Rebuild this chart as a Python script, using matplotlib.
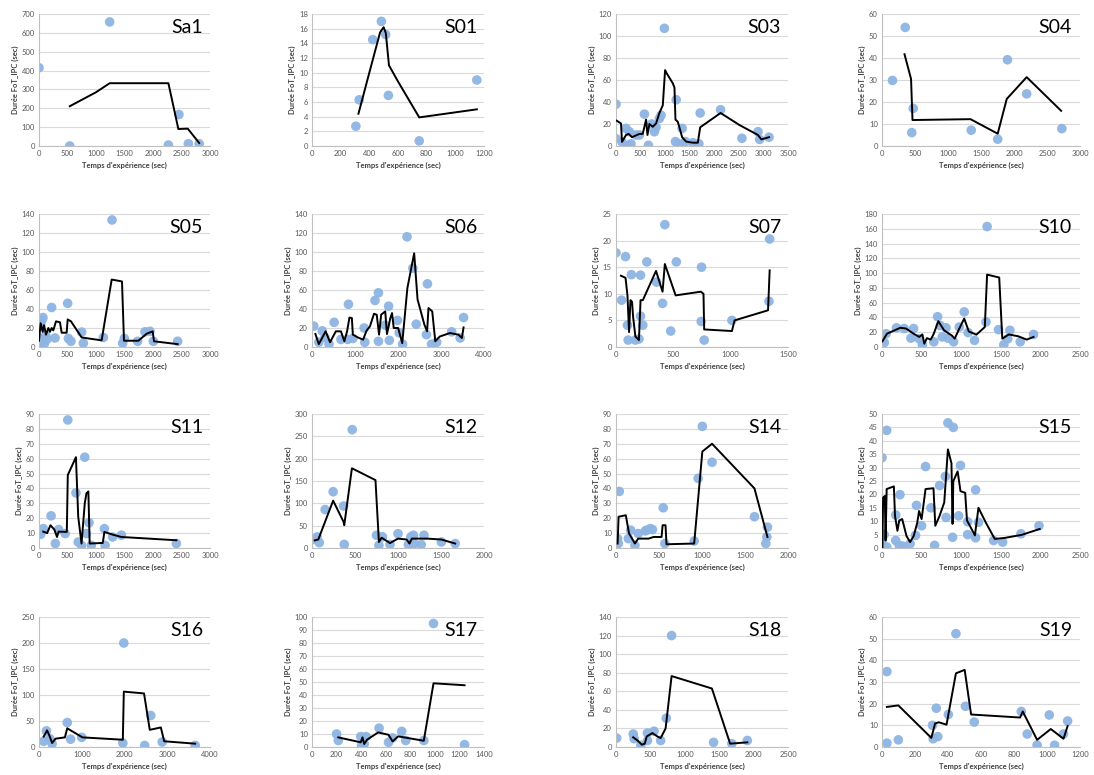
import matplotlib
matplotlib.use('Agg')
import matplotlib.pyplot as plt
from matplotlib.ticker import MultipleLocator

plt.rcParams['font.family'] = ['Lato', 'DejaVu Sans']

# Sa1
sa1_px = [0, 540, 1240, 2270, 2455, 2620, 2810]
sa1_py = [415, 0, 658, 5, 167, 12, 12]
sa1_lx = [540, 1000, 1240, 2270, 2445, 2610, 2810]
sa1_ly = [211, 285, 333, 333, 90, 92, 16]

# S01
s01_px = [306, 329, 424, 484, 514, 533, 748, 1150]
s01_py = [2.7, 6.3, 14.5, 17.0, 15.2, 6.9, 0.7, 9.0]
s01_lx = [324, 400, 475, 500, 515, 537, 600, 748, 1150]
s01_ly = [4.4, 10.0, 15.5, 16.2, 15.4, 11.0, 8.8, 3.9, 5.0]

# S03
s03_px = [0, 0, 122, 204, 238, 272, 306, 408, 476, 578, 660, 727, 781, 815, 883,
          917, 985, 1210, 1224, 1278, 1346, 1414, 1563, 1686, 1713, 2128, 2563,
          2889, 2923, 3114]
s03_py = [38, 6.7, 3.7, 16, 0.5, 13, 2, 10, 10, 29, 0.6, 20, 13, 17, 25,
          28, 107, 4, 42, 2, 16, 4, 3, 2, 30, 33, 7,
          13, 6, 8]
s03_lx = [14, 102, 122, 204, 258, 326, 476, 544, 612, 640, 680, 748, 815, 883, 952,
          999, 1033, 1156, 1190, 1210, 1258, 1346, 1427, 1563, 1665, 1713, 2128,
          2515, 2889, 2957, 3114]
s03_ly = [23, 20.5, 3.7, 10, 11, 8, 11, 11, 24, 10, 20, 17.5, 20.5, 30, 37,
          69, 66, 57, 53, 24, 22, 8, 4, 3, 3, 17, 30,
          19, 10, 6, 8]

# S04
s04_px = [159, 352, 451, 473, 1352, 1753, 1901, 2192, 2725]
s04_py = [29.8, 53.9, 6.1, 17.1, 7.2, 3.1, 39.2, 23.7, 7.9]
s04_lx = [341, 440, 462, 1341, 1753, 1890, 2192, 2714]
s04_ly = [41.7, 30.5, 11.8, 12.2, 5.6, 21.4, 31.3, 16]

# S05
s05_px = [0, 18, 29, 50, 70, 90, 120, 140, 222, 281, 503, 515, 561, 749, 778,
          1129, 1281, 1468, 1497, 1731, 1860, 1947, 2006, 2433]
s05_py = [9.5, 4, 23, 28, 31, 3, 12, 8, 41.6, 9.5, 46, 9, 6, 15.7, 4,
          10, 133.7, 4, 9, 6, 16, 16.5, 6, 6]
s05_lx = [0, 29, 64, 88, 123, 164, 193, 222, 251, 298, 368, 398, 485, 503, 561,
          749, 1099, 1275, 1456, 1491, 1743, 1801, 1889, 1994, 2018, 2433]
s05_ly = [6.6, 25, 16, 23, 13, 20, 16, 20, 17.5, 27, 26, 15, 15, 29, 27,
          10, 7, 71, 69, 6.6, 6.6, 9.5, 14, 16.5, 6, 3]

# S06
s06_px = [40, 158, 238, 300, 396, 515, 673, 832, 848, 950, 1212, 1228, 1465, 1545,
          1545, 1703, 1782, 1798, 1988, 2028, 2107, 2210, 2345, 2424, 2661, 2685,
          2780, 2900, 3248, 3446, 3525]
s06_py = [22, 5, 17, 10, 3, 26, 8, 8, 45, 9, 20, 5, 49, 57,
          6, 23, 43, 7, 28, 15, 3, 116, 83, 24, 13, 66.5,
          3, 5, 16, 9.5, 31]
s06_lx = [79, 158, 317, 420, 554, 673, 752, 816, 871, 927, 950, 1069, 1188, 1267,
          1347, 1442, 1505, 1560, 1608, 1703, 1743, 1822, 1861, 1901, 2004, 2099,
          2218, 2376, 2455, 2614, 2677, 2709, 2796, 2867, 2970, 3208, 3406, 3485, 3525]
s06_ly = [13.7, 3, 16.5, 5, 16.5, 16.5, 6, 16.5, 31, 30.5, 13, 10, 7.7, 17,
          21.7, 35, 34, 13, 34, 37.5, 13.6, 30.5, 35.7, 20, 20, 4,
          62, 98.7, 50, 23.5, 16.5, 41, 37.5, 6, 11, 14.7, 13, 9.5, 20.6]

# S07
s07_px = [0, 49, 83, 100, 106, 134, 169, 200, 214, 214, 234, 269, 354, 406, 426,
          477, 526, 743, 746, 769, 1011, 1334, 1340]
s07_py = [17.7, 8.8, 17, 4.1, 1.3, 13.6, 1.3, 1.5, 13.5, 5.8, 4.1, 16, 12.2, 8.2, 23,
          3, 16, 4.8, 15, 1.3, 5, 8.6, 20.3]
s07_lx = [43, 83, 100, 114, 126, 140, 149, 169, 200, 214, 234, 349, 406, 426, 520,
          740, 763, 769, 1011, 1034, 1326, 1340]
s07_ly = [13.4, 13, 9.7, 2.8, 8.8, 8.5, 5.7, 2, 1.3, 8.8, 8.8, 14.3, 10.4, 15.6, 9.7,
          10.4, 10, 3.3, 3, 5, 6.9, 14.4]

# S10
s10_px = [5, 29, 53, 183, 279, 365, 399, 471, 510, 654, 702, 736, 760, 808, 832,
          904, 976, 1038, 1087, 1168, 1313, 1327, 1471, 1538, 1587, 1615, 1745, 1913]
s10_py = [9, 6, 18, 26, 25, 12, 25, 11, 3, 7, 41, 29, 13.6, 26, 12,
          7, 27, 47.5, 19.5, 9, 34, 163, 23.5, 3, 11, 22.6, 7, 17]
s10_lx = [5, 63, 159, 231, 303, 399, 471, 510, 534, 567, 615, 654, 711, 784, 846,
          880, 918, 976, 1038, 1096, 1192, 1298, 1327, 1480, 1519, 1601, 1721, 1827, 1913]
s10_ly = [7.7, 18, 22.6, 26, 25, 18, 13.6, 17, 4.5, 12, 10, 18, 35, 22.6, 18,
          15.8, 11.3, 25, 38.5, 21, 16.7, 27, 98, 94, 11.3, 17, 14.5, 10, 13.6]

# S11
s11_px = [29, 75, 212, 287, 344, 459, 505, 648, 688, 746, 803, 832, 878, 918,
          1147, 1159, 1291, 1446, 2410]
s11_py = [9.2, 13, 21.6, 3, 12.4, 9.7, 86, 37, 4, 1.8, 61, 9.7, 17, 1.8,
          13, 1.8, 7.4, 8.6, 3]
s11_lx = [75, 143, 201, 269, 316, 344, 488, 505, 648, 688, 746, 803, 832, 866,
          889, 1119, 1147, 1291, 1446, 2410]
s11_ly = [11, 10, 15.3, 12.4, 7.4, 11, 10.8, 49, 61, 21, 3, 30, 36.7, 38,
          3, 3.4, 10.8, 9, 7.4, 5.2]

# S12
s12_px = [12, 60, 85, 153, 246, 367, 375, 468, 750, 778, 819, 907, 1000, 1121,
          1149, 1181, 1189, 1270, 1302, 1504, 1665]
s12_py = [19, 25, 12, 86, 126, 94, 8, 265, 28.5, 6, 25, 8, 32, 7.5,
          25, 28.5, 10, 7.5, 28.5, 13.5, 10]
s12_lx = [32, 73, 246, 367, 375, 464, 738, 778, 810, 907, 1000, 1101, 1133, 1161,
          1270, 1343, 1504, 1665]
s12_ly = [17, 19, 106, 58.5, 51, 178.5, 152, 13.5, 23, 11, 21, 19, 10, 21,
          21, 21, 19, 10]

# S14
s14_px = [19, 27, 38, 144, 170, 220, 258, 341, 360, 398, 424, 549, 568, 909,
          955, 1004, 1117, 1610, 1742, 1754, 1761]
s14_py = [6.3, 3, 38, 6.3, 12, 1.8, 9.7, 11.5, 12, 13, 12.4, 27, 3, 4.7,
          46.8, 81.7, 57.6, 21, 3, 7.4, 14]
s14_lx = [19, 30, 114, 152, 220, 258, 322, 379, 436, 530, 542, 576, 587, 909,
          1004, 1117, 1610, 1761]
s14_ly = [3, 21, 22, 9.7, 3, 6.3, 6.3, 6.3, 7.4, 7.4, 15.3, 15.3, 2.5, 3,
          64.8, 70, 40, 7.4]

# S15
s15_px = [0, 0, 27, 59, 59, 173, 173, 218, 227, 264, 355, 423, 436, 500, 550, 618,
          664, 727, 800, 809, 832, 891, 900, 968, 991, 1082, 1082, 1182, 1182,
          1218, 1409, 1523, 1755, 1982]
s15_py = [33.7, 2.8, 5, 43.9, 0.4, 12.3, 2.8, 1, 19.9, 0.7, 1.6, 4.7, 15.9, 8.3, 30.4, 15,
          1, 23.3, 26.7, 11.4, 46.7, 4, 45, 12, 30.8, 9.8, 5, 21.7, 3.8,
          9.6, 2.8, 2.2, 5.3, 8.3]
s15_lx = [5, 14, 36, 45, 59, 150, 164, 195, 218, 255, 309, 355, 400, 445, 468, 500,
          550, 650, 673, 727, 786, 832, 877, 891, 900, 955, 991, 1050, 1073, 1173,
          1218, 1309, 1423, 1536, 1764, 1991]
s15_ly = [0, 18.8, 19.4, 2.8, 22, 23, 12, 6.4, 10.3, 10.8, 4.5, 2.2, 4.5, 9.4, 13.8, 10.8,
          22, 22.3, 8.3, 12, 17, 36.8, 31.6, 9, 24.9, 28.6, 21.2, 20.6, 10.3, 4.7,
          15, 9.6, 3.4, 3.7, 4.9, 7.1]

# S16
s16_px = [110, 173, 252, 307, 661, 740, 1000, 1961, 1984, 2472, 2614, 2882, 3654]
s16_py = [11, 31, 16, 6.4, 47, 15, 18.5, 7.7, 200, 3, 60.6, 9.6, 3]
s16_lx = [110, 189, 252, 307, 386, 606, 661, 740, 1016, 1961, 1984, 2457, 2591,
          2850, 2929, 3654]
s16_ly = [20, 32, 20, 7.7, 16, 18.5, 36, 32, 18.5, 14, 106.5, 103, 33,
          37.6, 11, 6.4]

# S17
s17_px = [200, 214, 397, 403, 425, 440, 546, 623, 656, 730, 763, 910, 989, 1242]
s17_py = [10, 5, 8, 1.3, 2.3, 8, 14.5, 3.6, 7, 12, 5, 5, 95, 1.8]
s17_lx = [214, 397, 411, 425, 448, 538, 623, 656, 701, 910, 989, 1242]
s17_ly = [7.4, 3.6, 7.4, 2.3, 5.6, 11.2, 9.4, 4.3, 8.2, 4.8, 49, 47.5]

# S18
s18_px = [10, 250, 264, 361, 457, 457, 553, 649, 731, 808, 1418, 1683, 1909]
s18_py = [9.6, 14, 9, 1.8, 7, 15, 17, 7, 31, 120, 5, 3.6, 7]
s18_lx = [250, 313, 375, 418, 447, 529, 601, 649, 721, 808, 1394, 1659, 1909]
s18_ly = [10.4, 7, 2.5, 3.6, 11.4, 15, 11.4, 9.6, 20, 76.4, 63, 3.6, 5]

# S19
s19_px = [30, 30, 99, 306, 310, 329, 338, 402, 448, 506, 559, 844, 880, 940,
          1014, 1046, 1100, 1125]
s19_py = [34.8, 1.8, 3.3, 10, 3.8, 17.9, 4.8, 15, 52.3, 18.8, 11.5, 16.4, 6, 0.9,
          14.8, 0.8, 6, 12]
s19_lx = [30, 99, 299, 322, 345, 391, 448, 501, 540, 837, 853, 940, 1023, 1100, 1125]
s19_ly = [18.5, 19.2, 4.2, 10.9, 11.4, 10.3, 34, 35.6, 15, 13.6, 16.4, 3.3, 8.3, 3.8, 9.7]

# name, data, (xmax, xstep), (ymax, ystep)
panels = [
    ('Sa1', (sa1_px, sa1_py, sa1_lx, sa1_ly), (3000, 500), (700, 100)),
    ('S01', (s01_px, s01_py, s01_lx, s01_ly), (1200, 200), (18, 2)),
    ('S03', (s03_px, s03_py, s03_lx, s03_ly), (3500, 500), (120, 20)),
    ('S04', (s04_px, s04_py, s04_lx, s04_ly), (3000, 500), (60, 10)),
    ('S05', (s05_px, s05_py, s05_lx, s05_ly), (3000, 500), (140, 20)),
    ('S06', (s06_px, s06_py, s06_lx, s06_ly), (4000, 1000), (140, 20)),
    ('S07', (s07_px, s07_py, s07_lx, s07_ly), (1500, 500), (25, 5)),
    ('S10', (s10_px, s10_py, s10_lx, s10_ly), (2500, 500), (180, 20)),
    ('S11', (s11_px, s11_py, s11_lx, s11_ly), (3000, 500), (90, 10)),
    ('S12', (s12_px, s12_py, s12_lx, s12_ly), (2000, 500), (300, 50)),
    ('S14', (s14_px, s14_py, s14_lx, s14_ly), (2000, 500), (90, 10)),
    ('S15', (s15_px, s15_py, s15_lx, s15_ly), (2500, 500), (50, 5)),
    ('S16', (s16_px, s16_py, s16_lx, s16_ly), (4000, 1000), (250, 50)),
    ('S17', (s17_px, s17_py, s17_lx, s17_ly), (1400, 200), (100, 10)),
    ('S18', (s18_px, s18_py, s18_lx, s18_ly), (2500, 500), (140, 20)),
    ('S19', (s19_px, s19_py, s19_lx, s19_ly), (1200, 200), (60, 10)),
]

W, H = 1094, 775
col_left = [39, 312, 616, 882]
col_width = [171, 172, 172, 198]
row_top = [14, 214, 414, 617]
row_bottom = [146, 347, 548, 747]

fig = plt.figure(figsize=(W / 100, H / 100), dpi=100)

for i, (name, (px, py, lx, ly), (xmax, xstep), (ymax, ystep)) in enumerate(panels):
    r, c = divmod(i, 4)
    ax = fig.add_axes([col_left[c] / W, 1 - row_bottom[r] / H,
                       col_width[c] / W, (row_bottom[r] - row_top[r]) / H])
    ax.scatter(px, py, s=48, color='#8EB4E3', edgecolors='none', alpha=0.95, zorder=2)
    ax.plot(lx, ly, color='black', lw=1.4, zorder=3)

    ax.set_xlim(0, xmax)
    ax.set_ylim(0, ymax)
    ax.xaxis.set_major_locator(MultipleLocator(xstep))
    ax.yaxis.set_major_locator(MultipleLocator(ystep))
    ax.grid(axis='y', color='#D9D9D9', lw=0.8)
    ax.set_axisbelow(True)
    for side in ['top', 'right']:
        ax.spines[side].set_visible(False)
    for side in ['left', 'bottom']:
        ax.spines[side].set_color('#BFBFBF')
        ax.spines[side].set_linewidth(0.8)
    ax.tick_params(length=0, labelsize=5.5, labelcolor='#595959', pad=3)

    ax.set_xlabel("Temps d'expérience (sec)", fontsize=5.5, fontweight='bold',
                  color='#404040', labelpad=3)
    ax.set_ylabel('Durée FoT_IPC (sec)', fontsize=5.5, fontweight='bold',
                  color='#404040', labelpad=2)
    ax.text(0.96, 0.96, name, transform=ax.transAxes, ha='right', va='top',
            fontsize=14, color='black')

fig.savefig('out.png', dpi=100)
